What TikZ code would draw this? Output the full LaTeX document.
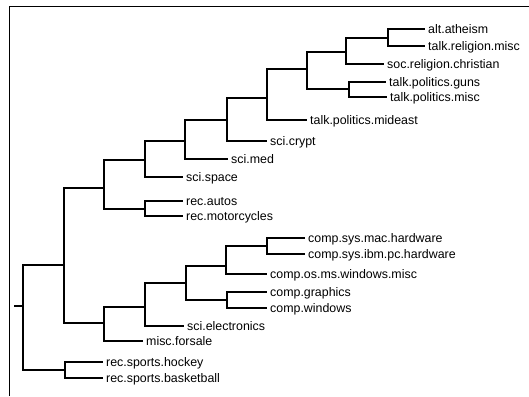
\documentclass[tikz,border=0pt]{standalone}
\usepackage{fontspec}
\setmainfont{Liberation Sans}
\begin{document}
\begin{tikzpicture}[x=1pt,y=-1pt,
  leaf/.style={anchor=west, inner xsep=3pt, inner ysep=0pt, text height=8.8pt, text depth=0pt,
    font=\fontsize{12.4}{14}\selectfont},
  branch/.style={line width=1.25pt, line join=miter, black},
  frame/.style={line width=1pt, black}]
\useasboundingbox (0,0) rectangle (529,396);
\draw[frame] (9,396) -- (9,6.5) -- (529,6.5);
% leaves
\node[leaf] (l1)  at (425,29)  {alt.atheism};
\node[leaf] (l2)  at (425,46)  {talk.religion.misc};
\node[leaf] (l3)  at (384,64)  {soc.religion.christian};
\node[leaf] (l4)  at (386,82)  {talk.politics.guns};
\node[leaf] (l5)  at (387,97)  {talk.politics.misc};
\node[leaf] (l6)  at (307,120) {talk.politics.mideast};
\node[leaf] (l7)  at (267,141) {sci.crypt};
\node[leaf] (l8)  at (228,159) {sci.med};
\node[leaf] (l9)  at (183,177) {sci.space};
\node[leaf] (l10) at (183,201) {rec.autos};
\node[leaf] (l11) at (183,216) {rec.motorcycles};
\node[leaf] (l12) at (305,238) {comp.sys.mac.hardware};
\node[leaf] (l13) at (305,254) {comp.sys.ibm.pc.hardware};
\node[leaf] (l14) at (267,274) {comp.os.ms.windows.misc};
\node[leaf] (l15) at (267,292) {comp.graphics};
\node[leaf] (l16) at (267,308) {comp.windows};
\node[leaf] (l17) at (184,326) {sci.electronics};
\node[leaf] (l18) at (143,341) {misc.forsale};
\node[leaf] (l19) at (103,362) {rec.sports.hockey};
\node[leaf] (l20) at (103,378) {rec.sports.basketball};
% internal nodes
\coordinate (n1)  at (388,38);
\coordinate (n2)  at (346,52);
\coordinate (n3)  at (349,89);
\coordinate (n4)  at (307,69);
\coordinate (n5)  at (267,98);
\coordinate (n6)  at (227,120);
\coordinate (n7)  at (185,141);
\coordinate (n8)  at (145,160);
\coordinate (n9)  at (145,209);
\coordinate (n10) at (104,188);
\coordinate (n11) at (267,246);
\coordinate (n12) at (226,266);
\coordinate (n13) at (227,300);
\coordinate (n14) at (186,283);
\coordinate (n15) at (145,307);
\coordinate (n16) at (104,323);
\coordinate (n17) at (64,265);
\coordinate (n18) at (65,370);
\coordinate (root) at (23,306);
\coordinate (stub) at (14,306);
% connectors
\draw[branch] (n1) |- (l1.west);  \draw[branch] (n1) |- (l2.west);
\draw[branch] (n2) |- (n1);       \draw[branch] (n2) |- (l3.west);
\draw[branch] (n3) |- (l4.west);  \draw[branch] (n3) |- (l5.west);
\draw[branch] (n4) |- (n2);       \draw[branch] (n4) |- (n3);
\draw[branch] (n5) |- (n4);       \draw[branch] (n5) |- (l6.west);
\draw[branch] (n6) |- (n5);       \draw[branch] (n6) |- (l7.west);
\draw[branch] (n7) |- (n6);       \draw[branch] (n7) |- (l8.west);
\draw[branch] (n8) |- (n7);       \draw[branch] (n8) |- (l9.west);
\draw[branch] (n9) |- (l10.west); \draw[branch] (n9) |- (l11.west);
\draw[branch] (n10) |- (n8);      \draw[branch] (n10) |- (n9);
\draw[branch] (n11) |- (l12.west); \draw[branch] (n11) |- (l13.west);
\draw[branch] (n12) |- (n11);     \draw[branch] (n12) |- (l14.west);
\draw[branch] (n13) |- (l15.west); \draw[branch] (n13) |- (l16.west);
\draw[branch] (n14) |- (n12);     \draw[branch] (n14) |- (n13);
\draw[branch] (n15) |- (n14);     \draw[branch] (n15) |- (l17.west);
\draw[branch] (n16) |- (n15);     \draw[branch] (n16) |- (l18.west);
\draw[branch] (n17) |- (n10);     \draw[branch] (n17) |- (n16);
\draw[branch] (n18) |- (l19.west); \draw[branch] (n18) |- (l20.west);
\draw[branch] (root) |- (n17);    \draw[branch] (root) |- (n18);
\draw[branch] (stub) -- (root);
\end{tikzpicture}
\end{document}
